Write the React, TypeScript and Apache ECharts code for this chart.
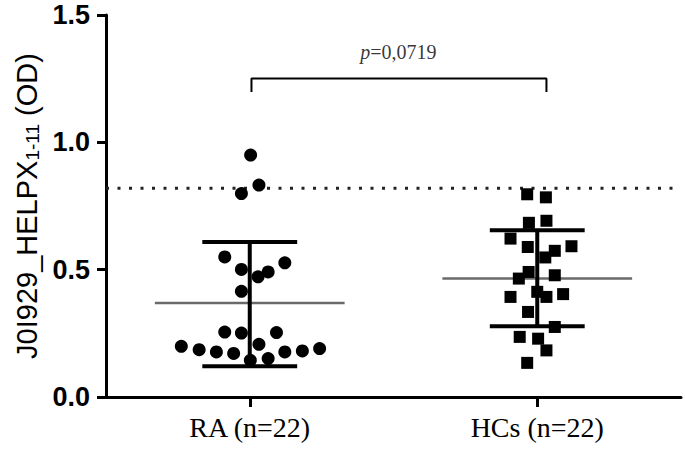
import React, { useEffect, useRef } from 'react';
import * as echarts from 'echarts';

const categories = ['RA (n=22)', 'HCs (n=22)'];
const yTicks = [0, 0.5, 1.0, 1.5];

const raValues = [0.950, 0.832, 0.799, 0.550, 0.527, 0.501, 0.491, 0.472, 0.415, 0.255, 0.251, 0.253, 0.199, 0.186, 0.177, 0.171, 0.207, 0.177, 0.181, 0.190, 0.144, 0.151];
const raJitter = [0.003, 0.032, -0.029, -0.087, 0.122, -0.029, 0.064, 0.029, -0.029, -0.087, -0.029, 0.093, -0.238, -0.176, -0.116, -0.056, 0.032, 0.122, 0.183, 0.243, 0.002, 0.064];

const hcValues = [0.796, 0.784, 0.684, 0.692, 0.622, 0.592, 0.589, 0.574, 0.548, 0.491, 0.465, 0.478, 0.413, 0.393, 0.404, 0.393, 0.334, 0.275, 0.236, 0.229, 0.183, 0.134];
const hcJitter = [-0.035, 0.030, -0.029, 0.032, -0.093, 0.119, -0.033, 0.061, 0.028, -0.030, -0.064, 0.061, 0.0, -0.093, 0.090, 0.032, -0.032, 0.061, -0.061, 0.003, 0.032, -0.035];

const means = [0.369, 0.465];
const sdLow = [0.121, 0.278];
const sdHigh = [0.609, 0.655];
const cutoff = 0.82;

const bracketX = [0.006, 1.032];
const bracketY = [1.198, 1.251];
const pLabel = { x: 0.517, y: 1.355, p: 'p', rest: '=0,0719' };

const MEAN_HALF = 0.33;
const CAP_HALF = 0.165;

export default function App() {
  const ref = useRef<HTMLDivElement>(null);
  useEffect(() => {
    document.body.style.margin = '0';
    if (!ref.current) return;
    const chart = echarts.init(ref.current, null, { renderer: 'svg' });
    const series: any[] = [];
    const base = { xAxisIndex: 1, yAxisIndex: 0, silent: true };

    // cutoff dotted line
    series.push({
      ...base,
      type: 'line',
      symbol: 'none',
      data: [[-0.5, cutoff], [1.5, cutoff]],
      lineStyle: { color: '#222', width: 3, type: [3, 8.5] },
      z: 1,
    });

    [0, 1].forEach((c) => {
      // mean line
      series.push({
        ...base,
        type: 'line',
        symbol: 'none',
        data: [[c - MEAN_HALF, means[c]], [c + MEAN_HALF, means[c]]],
        lineStyle: { color: '#6a6a6a', width: 2.5 },
        z: 2,
      });
      // vertical SD
      series.push({
        ...base,
        type: 'line',
        symbol: 'none',
        data: [[c, sdLow[c]], [c, sdHigh[c]]],
        lineStyle: { color: '#000', width: 4 },
        z: 3,
      });
      [sdLow[c], sdHigh[c]].forEach((v) => {
        series.push({
          ...base,
          type: 'line',
          symbol: 'none',
          data: [[c - CAP_HALF, v], [c + CAP_HALF, v]],
          lineStyle: { color: '#000', width: 4 },
          z: 3,
        });
      });
    });

    series.push({
      ...base,
      type: 'scatter',
      symbol: 'circle',
      symbolSize: 13,
      itemStyle: { color: '#000', opacity: 1 },
      data: raValues.map((v, i) => [0 + raJitter[i], v]),
      z: 4,
    });
    series.push({
      ...base,
      type: 'scatter',
      symbol: 'rect',
      symbolSize: 12,
      itemStyle: { color: '#000', opacity: 1 },
      data: hcValues.map((v, i) => [1 + hcJitter[i], v]),
      z: 4,
    });

    // significance bracket
    series.push({
      ...base,
      type: 'line',
      symbol: 'none',
      data: [
        [bracketX[0], bracketY[0]],
        [bracketX[0], bracketY[1]],
        [bracketX[1], bracketY[1]],
        [bracketX[1], bracketY[0]],
      ],
      lineStyle: { color: '#000', width: 2 },
      z: 3,
    });
    series.push({
      ...base,
      type: 'scatter',
      symbol: 'circle',
      symbolSize: 1,
      itemStyle: { color: 'rgba(0,0,0,0)' },
      data: [[pLabel.x, pLabel.y]],
      label: {
        show: true,
        position: 'inside',
        formatter: '{i|' + pLabel.p + '}{n|' + pLabel.rest + '}',
        rich: {
          i: { fontFamily: 'Liberation Serif', fontStyle: 'italic', fontSize: 20, color: '#000' },
          n: { fontFamily: 'Liberation Serif', fontSize: 20, color: '#000' },
        },
      },
      z: 5,
    });

    chart.setOption({
      animation: false,
      backgroundColor: '#fff',
      grid: { left: 106, right: 4, top: 15, bottom: 55, containLabel: false },
      xAxis: [
        {
          type: 'category',
          data: categories,
          boundaryGap: true,
          axisLine: { show: true, onZero: false, lineStyle: { color: '#000', width: 3 } },
          axisTick: { show: true, alignWithLabel: true, length: 10, lineStyle: { color: '#000', width: 3 } },
          axisLabel: { color: '#000', fontFamily: 'Liberation Serif', fontSize: 28, margin: 16 },
          splitLine: { show: false },
        },
        {
          type: 'value',
          min: -0.5,
          max: 1.5,
          show: false,
          axisLine: { onZero: false },
          splitLine: { show: false },
        },
      ],
      yAxis: {
        type: 'value',
        min: 0,
        max: 1.5,
        interval: 0.5,
        axisLine: { show: true, onZero: false, lineStyle: { color: '#000', width: 3 } },
        axisTick: { show: true, length: 9, lineStyle: { color: '#000', width: 3 } },
        axisLabel: {
          color: '#000',
          fontFamily: 'Liberation Sans',
          fontWeight: 'bold',
          fontSize: 27,
          margin: 16,
          formatter: (v: number) => (yTicks.includes(v) ? v.toFixed(1) : ''),
        },
        splitLine: { show: false },
        name: '{a|J0I929_HELPX}{s|1-11}{a| (OD)}',
        nameLocation: 'middle',
        nameGap: 64,
        nameRotate: 90,
        nameTextStyle: {
          rich: {
            a: { fontFamily: 'Liberation Sans', fontSize: 29, color: '#000', verticalAlign: 'bottom' },
            s: { fontFamily: 'Liberation Sans', fontSize: 19, color: '#000', verticalAlign: 'bottom' },
          },
        },
      },
      series,
    });
    return () => chart.dispose();
  }, []);
  return <div ref={ref} style={{ width: 685, height: 452 }} />;
}
